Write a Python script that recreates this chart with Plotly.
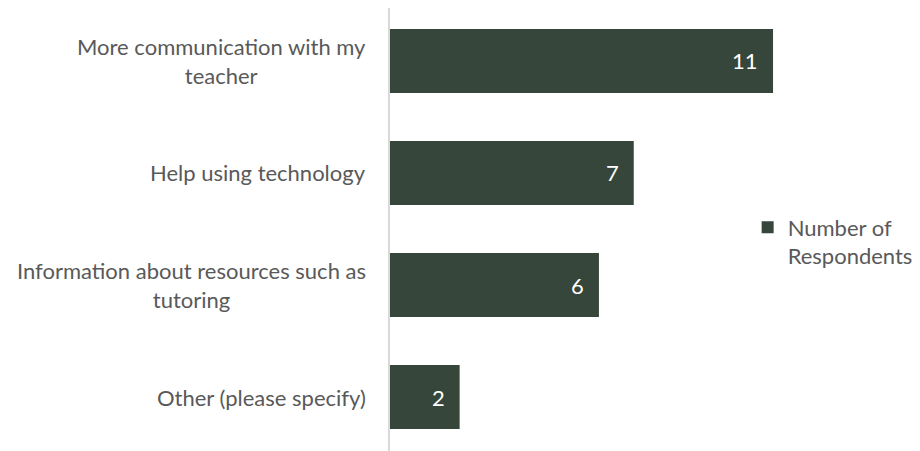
import plotly.graph_objects as go

categories = [
    "More communication with my<br>teacher",
    "Help using technology",
    "Information about resources such as<br>tutoring",
    "Other (please specify)",
]
values = [11, 7, 6, 2]
series_name = "Number of<br>Respondents"

BAR = "#36463A"
TXT = "#595959"
FONT = "Lato, Open Sans, sans-serif"
FS = 22

fig = go.Figure()
fig.add_trace(go.Bar(
    y=categories, x=values, orientation="h", name=series_name,
    marker=dict(color=BAR, line=dict(width=0)), showlegend=True,
))

ann = []
for cat, v in zip(categories, values):
    ann.append(dict(
        x=0, xref="x", y=cat, yref="y", text=cat, showarrow=False,
        xanchor="right", yanchor="middle", xshift=-22, align="center",
        font=dict(family=FONT, size=FS, color=TXT),
    ))
    ann.append(dict(
        x=v, xref="x", y=cat, yref="y", text=str(v), showarrow=False,
        xanchor="right", yanchor="middle", xshift=-13,
        font=dict(family=FONT, size=FS, color="white"),
    ))

fig.update_layout(
    width=912, height=443,
    margin=dict(l=382, r=140, t=0, b=0, autoexpand=False),
    paper_bgcolor="white", plot_bgcolor="white",
    bargap=0.43,
    font=dict(family=FONT, size=FS, color=TXT),
    xaxis=dict(range=[0, 11.2], visible=False, showgrid=False, zeroline=False),
    yaxis=dict(range=[3.482, -0.473], showticklabels=False, showgrid=False,
               zeroline=False, showline=True, linecolor="#D9D9D9", linewidth=1.5,
               ticks="", automargin=False),
    legend=dict(xref="container", yref="container", x=0.811, y=0.552,
                xanchor="left", yanchor="top", valign="top",
                font=dict(family=FONT, size=FS, color=TXT),
                itemwidth=30, bgcolor="rgba(0,0,0,0)"),
    annotations=ann,
)

fig.write_html("out.html")
